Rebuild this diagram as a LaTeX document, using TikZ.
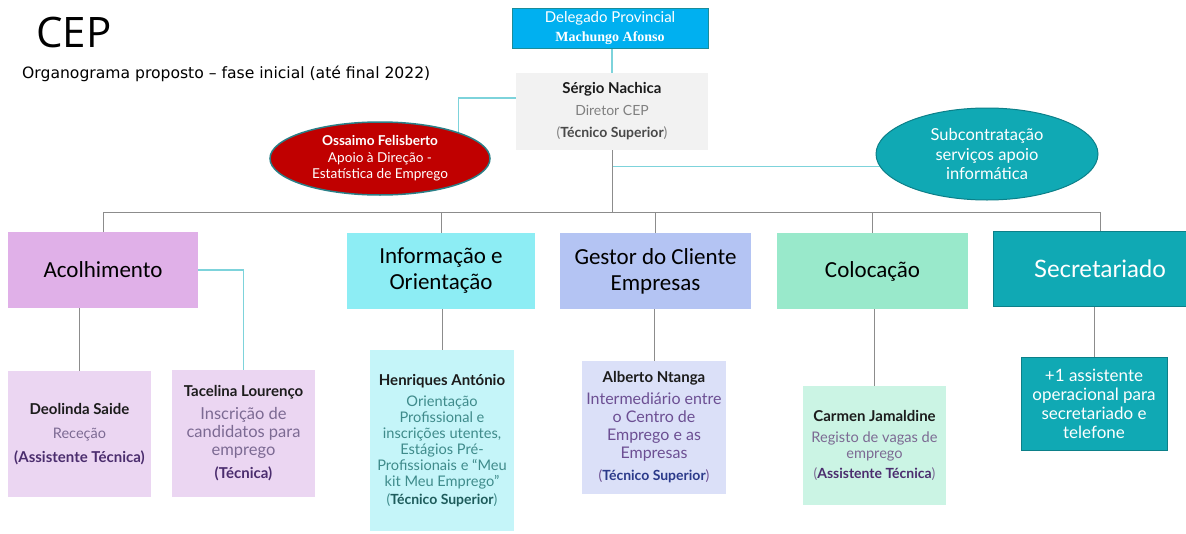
\documentclass[tikz,border=0pt]{standalone}
\usepackage{fontspec}
\setmainfont{Carlito}
\newfontfamily\latofont{Lato}
\newfontfamily\dejafont{DejaVu Sans}
\newfontfamily\opensfont{Open Sans}
\newfontfamily\timesfont{Liberation Serif}
\usepackage{xcolor}
\usetikzlibrary{shapes.geometric, backgrounds, positioning}
\definecolor{delfill}{HTML}{00B0F0}
\definecolor{delbord}{HTML}{1A8C9A}
\definecolor{dirfill}{HTML}{F2F2F2}
\definecolor{ossfill}{HTML}{C00000}
\definecolor{ossbord}{HTML}{2A7F87}
\definecolor{tealfill}{HTML}{10A9B4}
\definecolor{tealbord}{HTML}{0C8089}
\definecolor{acolfill}{HTML}{E0B0E8}
\definecolor{inffill}{HTML}{8DEDF4}
\definecolor{gesfill}{HTML}{B4C4F3}
\definecolor{colfill}{HTML}{99E9CB}
\definecolor{lilac}{HTML}{EBD6F2}
\definecolor{aqua}{HTML}{C5F5F9}
\definecolor{periw}{HTML}{DBE0F8}
\definecolor{mint}{HTML}{CBF4E4}
\definecolor{namecol}{HTML}{1C1C1C}
\definecolor{purpbody}{HTML}{7C6A93}
\definecolor{purpbold}{HTML}{4B2D6E}
\definecolor{tealbody}{HTML}{3F8B8B}
\definecolor{tealbold}{HTML}{1E5C5C}
\definecolor{violbody}{HTML}{6C4F93}
\definecolor{navybold}{HTML}{2B3A8A}
\definecolor{linkteal}{HTML}{7DD3DB}
\definecolor{linkgray}{HTML}{8C8C8C}
\newcommand{\fsz}[2]{\fontsize{#1}{#2}\selectfont}
\newcommand{\pname}[1]{{\color{namecol}\fsz{15}{18}\bfseries #1}}

\begin{document}
\begin{tikzpicture}[x=1pt, y=-1pt,
    unitbox/.style={minimum width=#1, minimum height=76, inner sep=0, align=center, font=\fsz{23}{26}},
    personbox/.style={inner sep=0, align=center, anchor=center},
    grayline/.style={draw=linkgray, line width=1pt},
    tealline/.style={draw=linkteal, line width=1.5pt}]
    \useasboundingbox (0,0) rectangle (1186,533);

    % Title
    \node[anchor=west, font=\opensfont\fsz{42}{44}, inner sep=0] (title) at (36,32) {CEP};
    \node[anchor=west, font=\dejafont\fsz{15.6}{18}, inner sep=0] (subtitle) at (22,74) {Organograma proposto – fase inicial (até final 2022)};

    % Delegado and Director
    \node[draw=delbord, line width=1pt, fill=delfill, text=white, minimum width=196, minimum height=40, inner sep=0, align=center, font=\latofont\fsz{15}{19}] (deleg) at (610,28)
        {Delegado Provincial\\{\timesfont\bfseries\fsz{14}{19}Machungo Afonso}};
    \node[fill=dirfill, minimum width=192, minimum height=77, inner sep=0, align=center, text=gray, font=\latofont\fsz{14}{22}] (sergio) at (612,111.5)
        {\pname{Sérgio Nachica}\\Diretor CEP\\({\color{namecol!80}\bfseries Técnico Superior})};

    % Support ellipses
    \node[ellipse, draw=ossbord, line width=1.5pt, fill=ossfill, text=white, minimum width=220, minimum height=73, inner sep=0, align=center, font=\latofont\fsz{13.6}{16.5}] (ossaimo) at (380,158.5)
        {{\bfseries Ossaimo Felisberto}\\Apoio à Direção -\\Estatística de Emprego};
    \node[ellipse, draw=tealbord, line width=1pt, fill=tealfill, text=white, minimum width=222, minimum height=92, inner sep=0, align=center, font=\latofont\fsz{16.5}{19.5}] (subc) at (987,154)
        {Subcontratação\\serviços apoio\\informática};

    % Units
    \node[unitbox=190, fill=acolfill] (acolh) at (103,270) {Acolhimento};
    \node[unitbox=188, fill=inffill] (infor) at (441,271) {Informação e\\Orientação};
    \node[unitbox=191, fill=gesfill] (gestor) at (655.5,271) {Gestor do Cliente\\Empresas};
    \node[unitbox=191, fill=colfill] (coloc) at (872.5,271) {Colocação};
    \node[unitbox=214, minimum height=75, fill=tealfill, draw=tealbord, line width=1pt, text=white, font=\latofont\fsz{24}{26}] (secret) at (1100,268.5) {Secretariado};

    % Staff
    \node[personbox, fill=lilac, minimum width=143, minimum height=126, text=purpbody, font=\latofont\fsz{14.5}{24}] (deol) at (79.5,434)
        {\pname{Deolinda Saide}\\Receção\\{\color{purpbold}\fsz{15}{18}\bfseries (Assistente Técnica)}};
    \node[personbox, fill=lilac, minimum width=143, minimum height=127, text=purpbody, font=\latofont\fsz{16.5}{18}] (tacel) at (243.5,433.5)
        {\pname{Tacelina Lourenço}\\[5pt]Inscrição de\\candidatos para\\emprego\\[5pt]{\fsz{15}{18}\color{purpbold}\bfseries (Técnica)}};
    \node[personbox, fill=aqua, minimum width=144, minimum height=181, text=tealbody, font=\latofont\fsz{14.6}{16}] (henr) at (442,440.5)
        {\pname{Henriques António}\\[5pt]Orientação\\Profissional e\\inscrições utentes,\\Estágios Pré-\\Profissionais e “Meu\\kit Meu Emprego”\\[2pt]{\fsz{14}{16}({\color{tealbold}\bfseries Técnico Superior})}};
    \node[personbox, fill=periw, minimum width=144, minimum height=133, text=violbody, font=\latofont\fsz{16}{18}] (albert) at (654,427.5)
        {\pname{Alberto Ntanga}\\[4pt]Intermediário entre\\o Centro de\\Emprego e as\\Empresas\\[4pt]{\fsz{14}{16}({\color{navybold}\bfseries Técnico Superior})}};
    \node[personbox, fill=mint, minimum width=143, minimum height=119, text=purpbody, font=\latofont\fsz{14.6}{16}] (carmen) at (874.5,445.5)
        {\pname{Carmen Jamaldine}\\[5pt]Registo de vagas de\\emprego\\[4pt]{\fsz{14}{16}({\color{purpbold}\bfseries Assistente Técnica})}};
    \node[personbox, fill=tealfill, draw=tealbord, line width=1pt, minimum width=146, minimum height=93, text=white, font=\latofont\fsz{17}{19}] (assist) at (1094,403.5)
        {+1 assistente\\operacional para\\secretariado e\\telefone};

    % Bus points
    \coordinate (bus) at (612,212);
    \coordinate (jsub) at (612,166.7);

    % Connectors
    \begin{scope}[on background layer]
        \draw[tealline] (deleg.south -| sergio.north) -- (sergio.north);
        \draw[tealline] ([yshift=13.5pt]sergio.west) -| (ossaimo.north east);
        \draw[tealline] (jsub) -- (jsub -| subc.center);
        \draw[grayline] (sergio.south) -- (bus);
        \draw[grayline] (bus) -| (acolh.north);
        \draw[grayline] (bus) -| (infor.north);
        \draw[grayline] (bus) -| (gestor.north);
        \draw[grayline] (bus) -| (coloc.north);
        \draw[grayline] (bus) -| (secret.north);
        \draw[grayline] (deol.north) -- (deol.north |- acolh.south);
        \draw[tealline] (acolh.east) -| (tacel.north);
        \draw[grayline] (henr.north) -- (henr.north |- infor.south);
        \draw[grayline] (albert.north) -- (albert.north |- gestor.south);
        \draw[grayline] (carmen.north) -- (carmen.north |- coloc.south);
        \draw[grayline] (assist.north) -- (assist.north |- secret.south);
    \end{scope}
\end{tikzpicture}
\end{document}
